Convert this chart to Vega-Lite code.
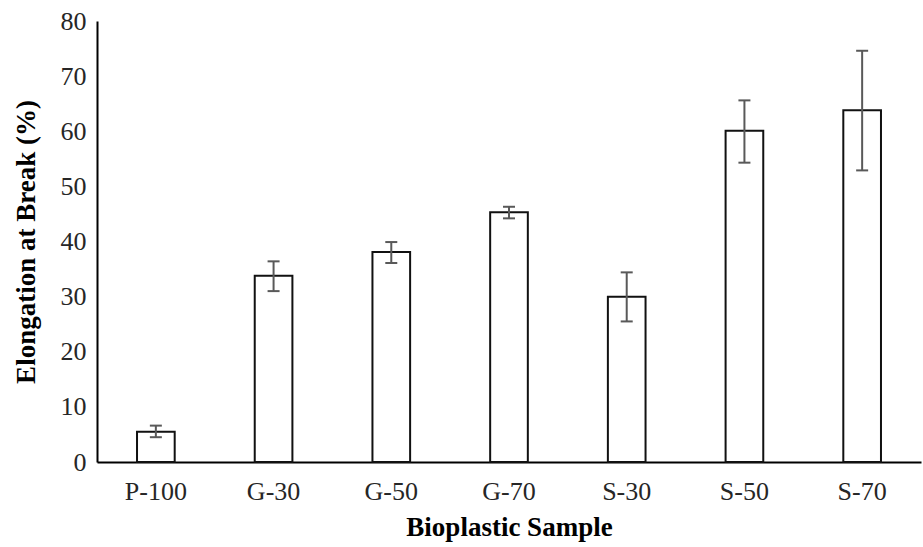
{
  "$schema": "https://vega.github.io/schema/vega-lite/v6.json",
  "width": 824,
  "height": 441,
  "autosize": {"type": "none"},
  "padding": {"left": 97, "top": 21, "right": 2, "bottom": 85},
  "background": "white",
  "config": {
    "view": {"stroke": null},
    "font": "Liberation Serif",
    "axis": {"labelFont": "Liberation Serif", "titleFont": "Liberation Serif", "labelColor": "#262626", "titleColor": "#000000", "domainColor": "#000000", "domainWidth": 2, "grid": false, "ticks": false}
  },
  "data": {
    "values": [
      {"sample": "P-100", "value": 5.5, "lo": 4.5, "hi": 6.6},
      {"sample": "G-30", "value": 33.8, "lo": 31.0, "hi": 36.4},
      {"sample": "G-50", "value": 38.1, "lo": 36.1, "hi": 39.9},
      {"sample": "G-70", "value": 45.3, "lo": 44.2, "hi": 46.3},
      {"sample": "S-30", "value": 30.0, "lo": 25.5, "hi": 34.4},
      {"sample": "S-50", "value": 60.1, "lo": 54.3, "hi": 65.6},
      {"sample": "S-70", "value": 63.8, "lo": 52.9, "hi": 74.6}
    ]
  },
  "encoding": {
    "x": {
      "field": "sample",
      "type": "nominal",
      "sort": null,
      "scale": {"paddingInner": 0.68, "paddingOuter": 0.34},
      "axis": {"title": "Bioplastic Sample", "labelAngle": 0, "labelFontSize": 26, "labelPadding": 16, "titleFontSize": 27, "titleFontWeight": "bold", "titlePadding": 10}
    }
  },
  "layer": [
    {
      "mark": {"type": "bar", "fill": "white", "stroke": "#111111", "strokeWidth": 2},
      "encoding": {
        "y": {
          "field": "value",
          "type": "quantitative",
          "scale": {"domain": [0, 80]},
          "axis": {"title": "Elongation at Break (%)", "values": [0, 10, 20, 30, 40, 50, 60, 70, 80], "labelFontSize": 26, "labelPadding": 11, "titleFontSize": 27, "titleFontWeight": "bold", "titlePadding": 20}
        }
      }
    },
    {
      "mark": {"type": "rule", "stroke": "#595959", "strokeWidth": 2},
      "encoding": {"y": {"field": "lo", "type": "quantitative"}, "y2": {"field": "hi"}}
    },
    {
      "mark": {"type": "tick", "orient": "horizontal", "color": "#595959", "size": 12, "thickness": 2, "opacity": 1},
      "encoding": {"y": {"field": "lo", "type": "quantitative"}}
    },
    {
      "mark": {"type": "tick", "orient": "horizontal", "color": "#595959", "size": 12, "thickness": 2, "opacity": 1},
      "encoding": {"y": {"field": "hi", "type": "quantitative"}}
    }
  ]
}
